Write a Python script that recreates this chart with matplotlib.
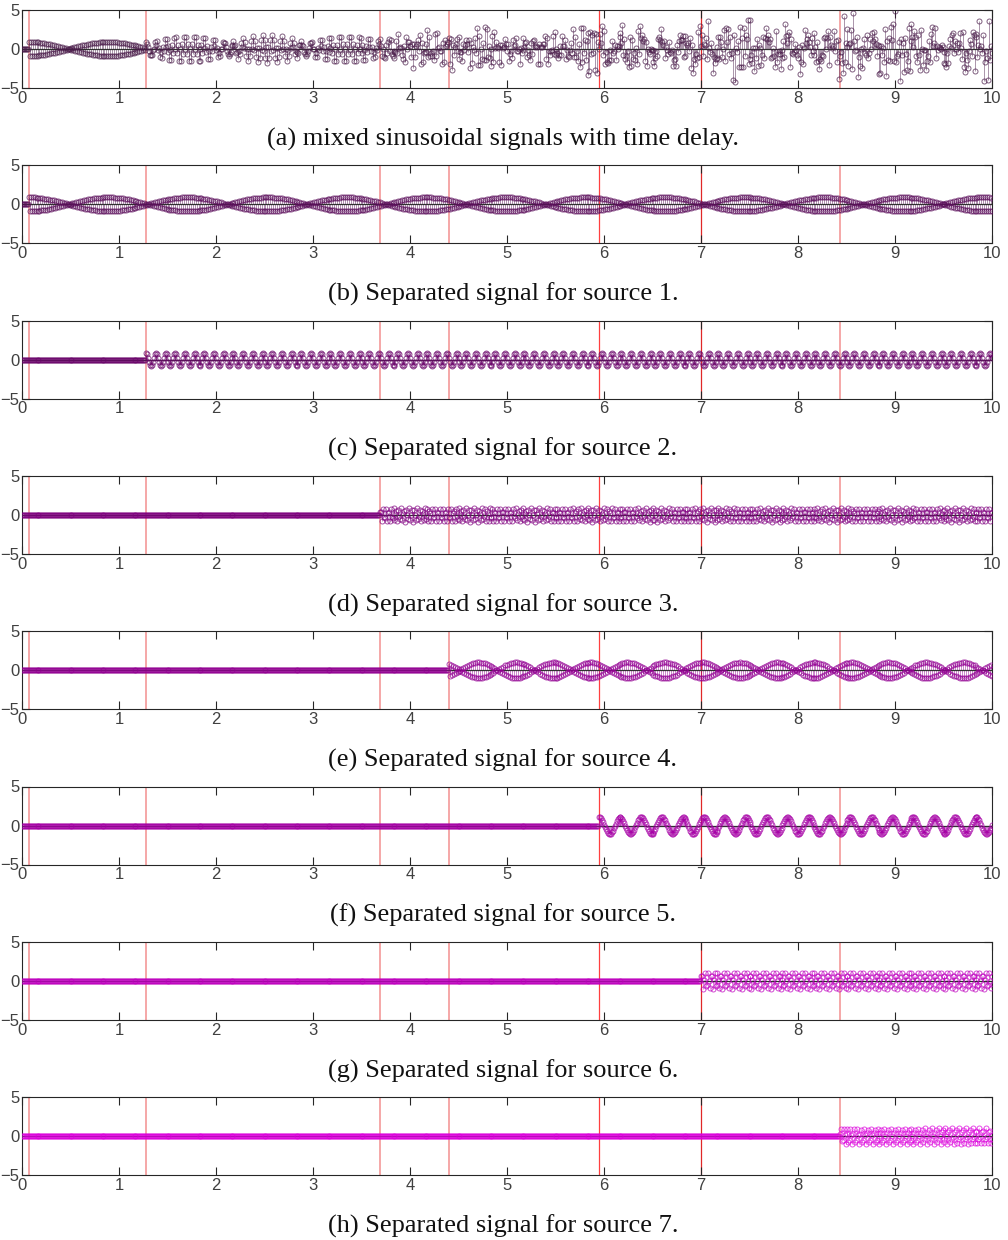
import numpy as np
import matplotlib
matplotlib.use("Agg")
import matplotlib.pyplot as plt

# source parameters (onset s, freq Hz, amplitude, phase rad)
fs = 100
t_end = 10.0
onsets = [0.07, 1.28, 3.69, 4.40, 5.95, 7.00, 8.43]
freqs = [49.39, 10.0, 37.3, 48.7, 4.63, 30.0, 28.6]
amps = [0.9, 0.85, 0.85, 1.0, 1.1, 1.05, 1.0]
phases = [1.571, 1.571, 0.4, 0.94, 1.571, 0.7, 0.3]

# marker lines drawn in every panel
event_times = [0.07, 1.28, 3.69, 4.40, 5.95, 7.00, 8.43]
event_colors = ["#f4a0a0", "#f4a0a0", "#f4a0a0", "#f4a0a0", "#ff4040", "#e02828", "#f4a0a0"]

captions = [
    "(a) mixed sinusoidal signals with time delay.",
    "(b) Separated signal for source 1.",
    "(c) Separated signal for source 2.",
    "(d) Separated signal for source 3.",
    "(e) Separated signal for source 4.",
    "(f) Separated signal for source 5.",
    "(g) Separated signal for source 6.",
    "(h) Separated signal for source 7.",
]
panel_colors = ["#4a1c4a", "#5c0f5c", "#6c066c", "#800080",
                "#930093", "#a600a6", "#bf00bf", "#dc00dc"]

t = np.arange(0, t_end + 1e-9, 1 / fs)
sources = []
for t0, f, a, ph in zip(onsets, freqs, amps, phases):
    s = a * np.sin(2 * np.pi * f * (t - t0) + ph)
    s[t < t0 - 1e-9] = 0.0
    sources.append(s)
mixed = np.sum(sources, axis=0)
signals = [mixed] + sources

W, H = 1008, 1240
fig = plt.figure(figsize=(W / 100, H / 100), dpi=100)

ax_left, ax_w, ax_h = 22, 970, 78
step = 155.3

for i, (sig, col, cap) in enumerate(zip(signals, panel_colors, captions)):
    top = 10 + step * i
    ax = fig.add_axes([ax_left / W, 1 - (top + ax_h) / H, ax_w / W, ax_h / H])

    for x, c in zip(event_times, event_colors):
        ax.axvline(x, color=c, lw=1.3 if c == "#f4a0a0" else 0.9, zorder=1)

    markerline, stemlines, baseline = ax.stem(t, sig)
    plt.setp(stemlines, color=col, lw=0.6, alpha=0.55, zorder=2)
    plt.setp(markerline, marker="o", markersize=3.6, markerfacecolor="none",
             markeredgecolor=col, markeredgewidth=0.7, alpha=0.7, zorder=3)
    plt.setp(baseline, color="#303030", lw=0.9, zorder=2)

    ax.set_xlim(0, 10)
    ax.set_ylim(-5, 5)
    ax.set_xticks(range(0, 11))
    ax.set_yticks([-5, 0, 5])
    ax.tick_params(direction="in", length=6, width=0.8, top=True, right=True,
                   labelsize=12, pad=2, color="#262626", labelcolor="#404040")
    for lab in ax.get_xticklabels() + ax.get_yticklabels():
        lab.set_family("Liberation Sans")
    for sp in ax.spines.values():
        sp.set_color("#262626")
        sp.set_linewidth(0.8)

    fig.text(503 / W, 1 - (139 + step * i) / H, cap, ha="center", va="center",
             fontsize=19, family="Liberation Serif", color="#111111")

fig.savefig("out.png", dpi=100)
